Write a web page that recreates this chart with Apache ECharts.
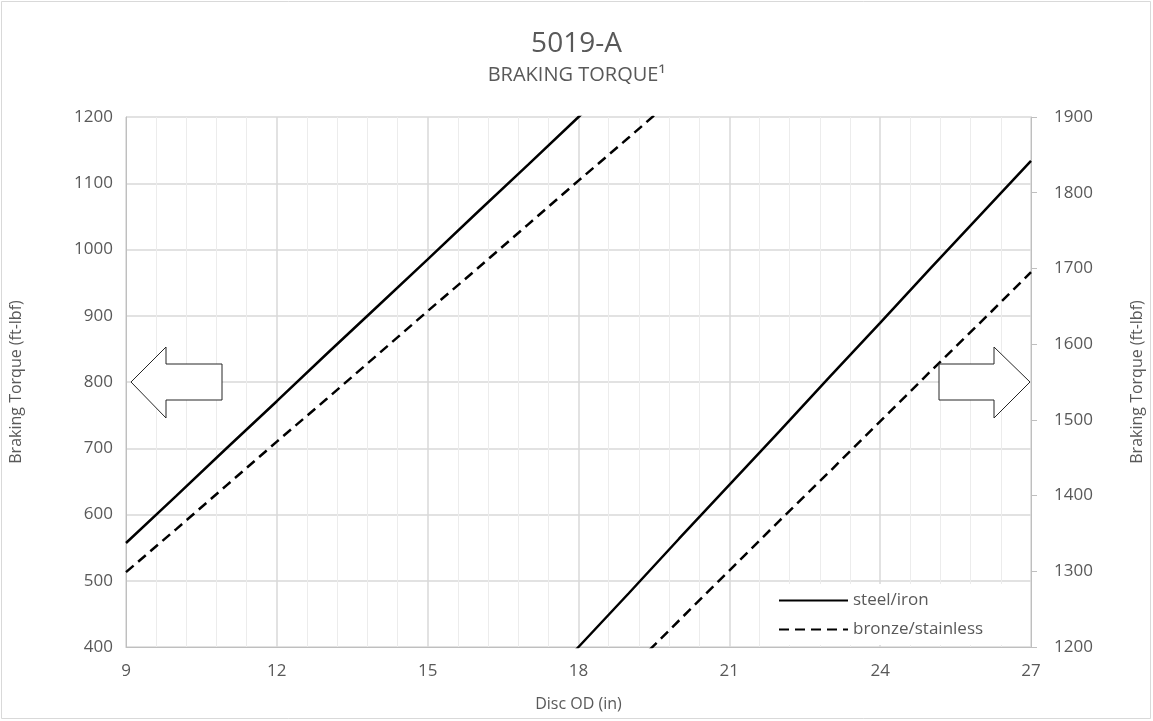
<!DOCTYPE html>
<html>
<head>
<meta charset="utf-8">
<title>5019-A Braking Torque</title>
<script src="https://cdn.jsdelivr.net/npm/echarts@6/dist/echarts.min.js"></script>
<style>
  html, body { margin: 0; padding: 0; background: #fff; }
  #main { width: 1153px; height: 721px; }
</style>
</head>
<body>
<div id="main"></div>
<script>
// disc OD (in) and braking torque (ft-lbf)
var discOD = [9, 10, 11, 12, 13, 14, 15, 16, 17, 18, 19, 20, 21, 22, 23, 24, 25, 26, 27];
var steelIron = [557, 628, 700, 771, 843, 914, 985, 1057, 1128, 1200, 1271, 1343, 1414, 1485, 1557, 1628, 1700, 1771, 1842];
var bronzeStainless = [513, 578, 644, 710, 775, 841, 907, 972, 1038, 1104, 1169, 1235, 1301, 1367, 1432, 1498, 1564, 1629, 1695];
var xTicks = [9, 12, 15, 18, 21, 24, 27];

var FONT = 'Open Sans';
var GREY = '#595959';

function pairs(xs, ys) {
    var out = [];
    for (var i = 0; i < xs.length; i++) {
        out.push([xs[i], ys[i]]);
    }
    return out;
}

// plain numbers, no thousands separator
function plain(v) {
    return String(v);
}

var myChart = echarts.init(document.getElementById('main'));

// one series per axis; the part outside each axis range is clipped
function makeSeries(name, values, yIndex, dashed) {
    return {
        name: name,
        type: 'line',
        yAxisIndex: yIndex,
        data: pairs(discOD, values),
        symbol: 'none',
        showSymbol: false,
        clip: true,
        silent: true,
        lineStyle: {
            color: '#000',
            width: 2.5,
            type: dashed ? [10, 6] : 'solid'
        },
        itemStyle: { color: '#000' }
    };
}

var option = {
    backgroundColor: '#fff',
    animation: false,
    textStyle: { fontFamily: FONT },
    title: {
        text: '5019-A',
        subtext: 'BRAKING TORQUE\u00B9',
        left: 'center',
        top: 25,
        itemGap: 7,
        textStyle: { fontFamily: FONT, fontSize: 28, fontWeight: 'normal', color: GREY },
        subtextStyle: { fontFamily: FONT, fontSize: 20, color: GREY }
    },
    legend: {
        data: ['steel/iron', 'bronze/stainless'],
        orient: 'vertical',
        left: 770,
        top: 584,
        itemWidth: 69,
        itemHeight: 14,
        itemGap: 12,
        padding: [8, 30, 7, 8],
        backgroundColor: '#fff',
        itemStyle: { opacity: 0 },
        textStyle: { fontFamily: FONT, fontSize: 17, color: GREY },
        z: 4
    },
    grid: {
        left: 125,
        right: 118,
        top: 117,
        bottom: 74,
        containLabel: false
    },
    xAxis: {
        type: 'value',
        min: 9,
        max: 27,
        interval: 3,
        name: 'Disc OD (in)',
        nameLocation: 'middle',
        nameGap: 49,
        nameTextStyle: { fontFamily: FONT, fontSize: 16, color: GREY },
        axisLine: { show: true, lineStyle: { color: '#bfbfbf', width: 1 } },
        axisTick: { show: false },
        axisLabel: {
            fontFamily: FONT, fontSize: 17, color: GREY, margin: 16,
            customValues: xTicks,
            formatter: plain
        },
        splitLine: { show: true, lineStyle: { color: '#d9d9d9', width: 1.5 } },
        minorTick: { show: false, splitNumber: 5 },
        minorSplitLine: { show: true, lineStyle: { color: '#ececec', width: 1 } }
    },
    yAxis: [
        {
            type: 'value',
            position: 'left',
            min: 400,
            max: 1200,
            interval: 100,
            name: 'Braking Torque (ft-lbf)',
            nameLocation: 'middle',
            nameGap: 102,
            nameTextStyle: { fontFamily: FONT, fontSize: 16, color: GREY },
            axisLine: { show: true, lineStyle: { color: '#bfbfbf', width: 1 } },
            axisTick: { show: false },
            axisLabel: { fontFamily: FONT, fontSize: 17, color: GREY, margin: 13, formatter: plain },
            splitLine: { show: true, lineStyle: { color: '#d9d9d9', width: 1.5 } }
        },
        {
            type: 'value',
            position: 'right',
            min: 1200,
            max: 1900,
            interval: 100,
            name: 'Braking Torque (ft-lbf)',
            nameLocation: 'middle',
            nameGap: 98,
            nameRotate: 90,
            nameTextStyle: { fontFamily: FONT, fontSize: 16, color: GREY },
            axisLine: { show: true, lineStyle: { color: '#bfbfbf', width: 1 } },
            axisTick: { show: true, inside: false, length: 6, lineStyle: { color: '#bfbfbf' } },
            axisLabel: { fontFamily: FONT, fontSize: 17, color: GREY, margin: 23, formatter: plain },
            splitLine: { show: false }
        }
    ],
    series: [
        makeSeries('steel/iron', steelIron, 0, false),
        makeSeries('bronze/stainless', bronzeStainless, 0, true),
        makeSeries('steel/iron', steelIron, 1, false),
        makeSeries('bronze/stainless', bronzeStainless, 1, true)
    ],
    graphic: [
        {
            // chart area border
            type: 'rect',
            shape: { x: 1.5, y: 1.5, width: 1149, height: 717 },
            style: { fill: 'none', stroke: '#d9d9d9', lineWidth: 1 },
            silent: true,
            z: 0
        },
        {
            // arrow pointing at the left axis
            type: 'polygon',
            shape: { points: [[131, 382], [166, 347], [166, 364], [222, 364], [222, 400], [166, 400], [166, 418]] },
            style: { fill: '#fff', stroke: '#262626', lineWidth: 1 },
            silent: true,
            z: 100
        },
        {
            // arrow pointing at the right axis
            type: 'polygon',
            shape: { points: [[939, 364], [994, 364], [994, 347], [1030, 382], [994, 418], [994, 400], [939, 400]] },
            style: { fill: '#fff', stroke: '#262626', lineWidth: 1 },
            silent: true,
            z: 100
        }
    ]
};

myChart.setOption(option);
window.addEventListener('resize', function () {
    myChart.resize();
});
</script>
</body>
</html>
